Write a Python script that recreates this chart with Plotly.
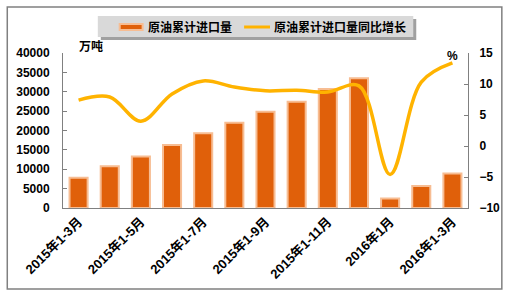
import plotly.graph_objects as go

categories = ["2015年1-3月", "2015年1-4月", "2015年1-5月", "2015年1-6月", "2015年1-7月",
              "2015年1-8月", "2015年1-9月", "2015年1-10月", "2015年1-11月", "2015年1-12月",
              "2016年1月", "2016年1-2月", "2016年1-3月"]
imports = [7820, 10780, 13290, 16290, 19310, 21980, 24820, 27410, 30690, 33460, 2430, 5690, 8900]
growth = [7.4, 7.9, 4.0, 8.4, 10.5, 9.5, 8.9, 9.0, 8.7, 9.7, -4.6, 10.3, 13.4]
shown_ticks = ["2015年1-3月", "2015年1-5月", "2015年1-7月", "2015年1-9月",
               "2015年1-11月", "2016年1月", "2016年1-3月"]
left_ticks = [0, 5000, 10000, 15000, 20000, 25000, 30000, 35000, 40000]
right_ticks = [-10, -5, 0, 5, 10, 15]
series_names = ["原油累计进口量", "原油累计进口量同比增长"]

FONT = "Liberation Sans, Noto Sans CJK SC, sans-serif"
BAR_COLOR = "#E0600A"
BAR_EDGE = "#F7BD93"
LINE_COLOR = "#FFB300"

fig = go.Figure()
fig.add_trace(go.Bar(
    x=categories, y=imports, name=series_names[0],
    marker=dict(color=BAR_COLOR, line=dict(color=BAR_EDGE, width=2)),
))
fig.add_trace(go.Scatter(
    x=categories, y=growth, name=series_names[1], yaxis="y2",
    mode="lines", line=dict(color=LINE_COLOR, width=3.5, shape="spline", smoothing=1.0),
))

W, H = 512, 299
l, r, t, b = 63, 42, 53, 91
pw, ph = W - l - r, H - t - b

def px(x):
    return (x - l) / pw

def py(y):
    return (H - b - y) / ph

shapes = [
    # outer frame
    dict(type="rect", xref="paper", yref="paper",
         x0=px(7), x1=px(504), y0=py(289), y1=py(7),
         line=dict(color="#808080", width=1.5), fillcolor="rgba(0,0,0,0)", layer="below"),
    # legend shadow
    dict(type="rect", xref="paper", yref="paper",
         x0=px(101), x1=px(418), y0=py(40), y1=py(19),
         line=dict(width=0), fillcolor="#A0A0A0", layer="above"),
    # legend box
    dict(type="rect", xref="paper", yref="paper",
         x0=px(98), x1=px(415), y0=py(37), y1=py(16),
         line=dict(width=0), fillcolor="#D9D9D9", layer="above"),
    # legend bar symbol
    dict(type="rect", xref="paper", yref="paper",
         x0=px(120), x1=px(143), y0=py(30), y1=py(24),
         line=dict(color=BAR_EDGE, width=2), fillcolor=BAR_COLOR, layer="above"),
    # legend line symbol
    dict(type="line", xref="paper", yref="paper",
         x0=px(245), x1=px(271), y0=py(27), y1=py(27),
         line=dict(color=LINE_COLOR, width=3), layer="above"),
]

annotations = [
    dict(text=series_names[0], x=px(146), y=py(27), xref="paper", yref="paper",
         xanchor="left", yanchor="middle", showarrow=False,
         font=dict(size=12, weight="bold")),
    dict(text=series_names[1], x=px(273), y=py(27), xref="paper", yref="paper",
         xanchor="left", yanchor="middle", showarrow=False,
         font=dict(size=12, weight="bold")),
    dict(text="万吨", x=px(77), y=py(47), xref="paper", yref="paper",
         xanchor="left", yanchor="middle", showarrow=False,
         font=dict(size=12, weight="bold")),
    dict(text="%", x=px(454), y=py(56), xref="paper", yref="paper",
         xanchor="center", yanchor="middle", showarrow=False,
         font=dict(size=12, weight="bold")),
]

fig.update_layout(
    width=W, height=H,
    margin=dict(l=l, r=r, t=t, b=b),
    paper_bgcolor="white", plot_bgcolor="white",
    font=dict(family=FONT, size=12, color="#000000", weight="bold"),
    bargap=0.42,
    showlegend=False,
    xaxis=dict(
        categoryorder="array", categoryarray=categories,
        tickmode="array", tickvals=shown_ticks, ticktext=shown_ticks,
        tickangle=-45, showline=True, linecolor="#808080", linewidth=1,
        showgrid=False, ticks="", tickfont=dict(size=13, weight="bold"),
    ),
    yaxis=dict(
        range=[0, 40000], tickvals=left_ticks, ticktext=[str(v) for v in left_ticks],
        showgrid=False,
        showline=True, linecolor="#808080", linewidth=1,
        ticks="inside", ticklen=4, tickcolor="#808080",
        ticklabelstandoff=10, zeroline=False,
        tickfont=dict(size=12, weight="bold"),
    ),
    yaxis2=dict(
        range=[-10, 15], tickvals=right_ticks, overlaying="y", side="right",
        showgrid=False, showline=True, linecolor="#808080", linewidth=1,
        ticks="inside", ticklen=4, tickcolor="#808080",
        ticklabelstandoff=8, zeroline=False,
        tickfont=dict(size=12, weight="bold"),
    ),
    shapes=shapes,
    annotations=annotations,
)

fig.write_html("out.html")
